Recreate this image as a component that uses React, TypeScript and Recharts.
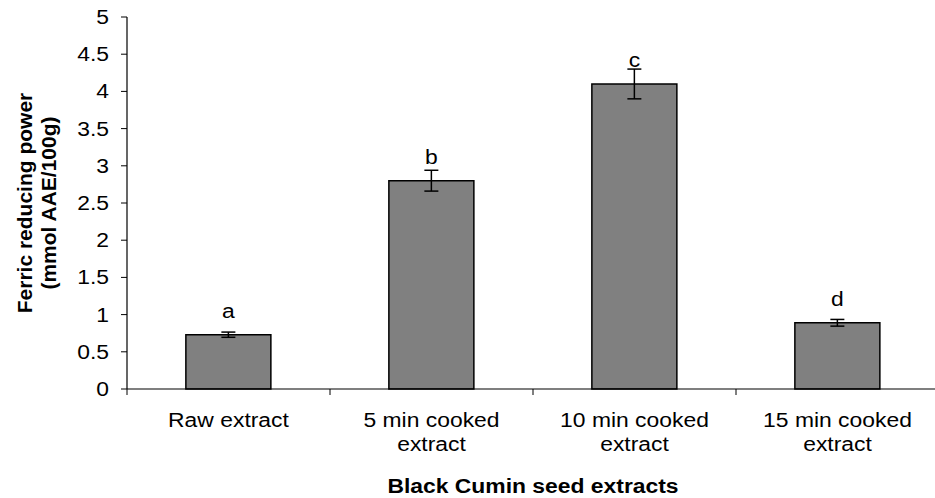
import React from "react";
import { BarChart, Bar, XAxis, YAxis, ErrorBar, LabelList } from "recharts";

const categories = ["Raw extract", "5 min cooked extract", "10 min cooked extract", "15 min cooked extract"];
const tickLines = [["Raw extract"], ["5 min cooked", "extract"], ["10 min cooked", "extract"], ["15 min cooked", "extract"]];
const values = [0.73, 2.8, 4.1, 0.89];
const errors = [0.035, 0.14, 0.2, 0.045];
const letters = ["a", "b", "c", "d"];
const yTicks = [0, 0.5, 1, 1.5, 2, 2.5, 3, 3.5, 4, 4.5, 5];
const xTitle = "Black Cumin seed extracts";
const yTitle = ["Ferric reducing power", "(mmol AAE/100g)"];

const data = categories.map((c, i) => ({ name: c, value: values[i], err: errors[i], letter: letters[i] }));

const FONT = "'Liberation Sans', Arial, sans-serif";
const FS = 21;
const SX = 1.09;

const stretch = (x: number) => `translate(${x},0) scale(${SX},1) translate(${-x},0)`;

const XTick = (props: any) => {
  const { x, y, payload, width, visibleTicksCount, index } = props;
  const lines = tickLines[categories.indexOf(payload.value)] || [payload.value];
  const half = payload.offset ? payload.offset : width / (2 * (visibleTicksCount || 4));
  const isLast = index === (visibleTicksCount || 4) - 1;
  return (
    <g>
      <line x1={x - half} y1={y} x2={x - half} y2={y + 6} stroke="#000" strokeWidth={1} />
      {isLast && <line x1={x + half} y1={y} x2={x + half} y2={y + 6} stroke="#000" strokeWidth={1} />}
      {lines.map((l: string, i: number) => (
        <text key={i} x={x} y={y + 38 + i * 24} textAnchor="middle" fontFamily={FONT} fontSize={FS} fill="#000"
          transform={stretch(x)}>
          {l}
        </text>
      ))}
    </g>
  );
};

const YTick = (props: any) => {
  const { x, y, payload } = props;
  const tx = x - 12;
  return (
    <text x={tx} y={y + 7} textAnchor="end" fontFamily={FONT} fontSize={FS} fill="#000" transform={stretch(tx)}>
      {String(payload.value)}
    </text>
  );
};

const YTitle = (props: any) => {
  const vb = props.viewBox || {};
  const cy = vb.y + vb.height / 2;
  return (
    <g>
      {yTitle.map((t, i) => {
        const cx = 24 + i * 24;
        return (
          <text key={i} x={cx} y={cy} transform={`rotate(-90 ${cx} ${cy})`} textAnchor="middle" dominantBaseline="central"
            fontFamily={FONT} fontSize={FS} fontWeight="bold" fill="#000">
            {t}
          </text>
        );
      })}
    </g>
  );
};

const XTitle = (props: any) => {
  const vb = props.viewBox || {};
  const cx = vb.x + vb.width / 2;
  return (
    <text x={cx} y={493} textAnchor="middle" fontFamily={FONT} fontSize={FS} fontWeight="bold" fill="#000"
      transform={stretch(cx)}>
      {xTitle}
    </text>
  );
};

const Letter = (props: any) => {
  const { x, y, width, value } = props;
  const cx = x + width / 2;
  return (
    <text x={cx} y={y - 17} textAnchor="middle" fontFamily={FONT} fontSize={FS} fill="#000" transform={stretch(cx)}>
      {value}
    </text>
  );
};

export default function App() {
  return (
    <div style={{ position: "absolute", left: 0, top: 0, width: 935, height: 498, overflow: "hidden", background: "#fff" }}>
      <BarChart width={945} height={498} data={data} margin={{ top: 17, right: 6, left: 0, bottom: 0 }} barCategoryGap="29%">
        <XAxis dataKey="name" height={109} axisLine={{ stroke: "#000", strokeWidth: 1.2 }} tickLine={false}
          tickSize={0} tickMargin={0} tick={<XTick />} interval={0} label={<XTitle />} />
        <YAxis domain={[0, 5]} ticks={yTicks} width={127} axisLine={{ stroke: "#000", strokeWidth: 1.2 }}
          tickLine={{ stroke: "#000" }} tickSize={6} tickMargin={0} tick={<YTick />} interval={0} label={<YTitle />} />
        <Bar dataKey="value" fill="#808080" stroke="#000" strokeWidth={1.5} isAnimationActive={false}>
          <ErrorBar dataKey="err" width={7} stroke="#000" strokeWidth={1.5} direction="y" isAnimationActive={false} />
          <LabelList dataKey="letter" content={<Letter />} />
        </Bar>
      </BarChart>
    </div>
  );
}
